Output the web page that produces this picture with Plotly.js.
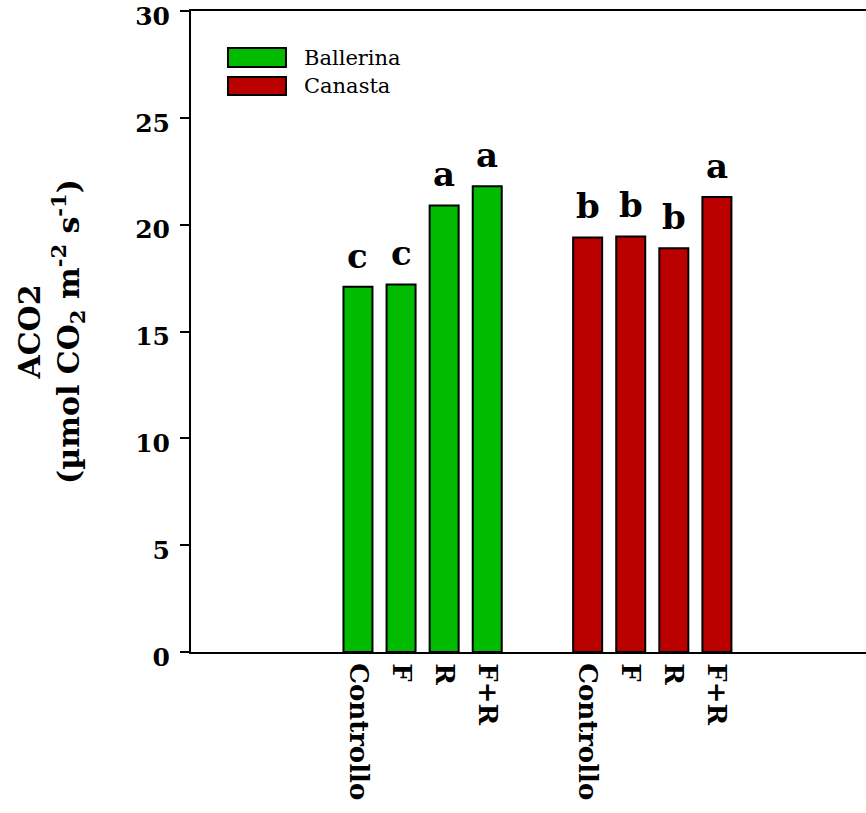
<!DOCTYPE html>
<html>
<head>
<meta charset="utf-8">
<script src="https://cdn.plot.ly/plotly-3.0.1.min.js"></script>
<style>html,body{margin:0;padding:0;background:#fff;}#chart{width:866px;height:813px;}</style>
</head>
<body>
<div id="chart"></div>
<script>
const categories = ["Controllo", "F", "R", "F+R"];
const seriesNames = ["Ballerina", "Canasta"];
const ballerina = [17.1, 17.2, 20.9, 21.8];
const canasta = [19.4, 19.45, 18.9, 21.3];
const ballerinaLetters = ["c", "c", "a", "a"];
const canastaLetters = ["b", "b", "b", "a"];
const yTicks = [0, 5, 10, 15, 20, 25, 30];

const groupOffset = 5.33;
const colors = ["#00bb00", "#bb0000"];
const serif = "DejaVu Serif";

const xB = categories.map((c, i) => i);
const xC = categories.map((c, i) => i + groupOffset);

const traces = [
  {type: "bar", name: seriesNames[0], x: xB, y: ballerina, width: 0.673,
   marker: {color: colors[0], line: {color: "#000", width: 2}}, showlegend: false},
  {type: "bar", name: seriesNames[1], x: xC, y: canasta, width: 0.673,
   marker: {color: colors[1], line: {color: "#000", width: 2}}, showlegend: false}
];

const annotations = [];
const letterFont = {family: serif, size: 34, color: "#000", weight: "bold"};
xB.forEach((x, i) => annotations.push({x: x, y: ballerina[i], text: ballerinaLetters[i], showarrow: false,
  yanchor: "bottom", yshift: 9, font: letterFont}));
xC.forEach((x, i) => annotations.push({x: x, y: canasta[i], text: canastaLetters[i], showarrow: false,
  yanchor: "bottom", yshift: 9, font: letterFont}));

// legend drawn as rectangles + labels
const legBoxes = [[0.9423, 0.9126], [0.897, 0.869]];
const shapes = seriesNames.map((n, k) => ({type: "rect", xref: "paper", yref: "paper",
  x0: 0.0548, x1: 0.1407, y0: legBoxes[k][1], y1: legBoxes[k][0],
  fillcolor: colors[k], line: {color: "#000", width: 2}}));
seriesNames.forEach((n, k) => annotations.push({xref: "paper", yref: "paper", x: 0.1644,
  y: (legBoxes[k][0] + legBoxes[k][1]) / 2, xanchor: "left", yanchor: "middle", text: n, showarrow: false,
  font: {family: serif, size: 21, color: "#000"}}));

const layout = {
  width: 866, height: 813,
  margin: {l: 191, r: 0, t: 11, b: 161},
  paper_bgcolor: "#fff", plot_bgcolor: "#fff",
  showlegend: false,
  bargap: 0,
  xaxis: {
    range: [-3.875, 11.79],
    tickvals: xB.concat(xC),
    ticktext: categories.concat(categories),
    tickangle: 90,
    ticks: "",
    showgrid: false, zeroline: false,
    showline: true, linecolor: "#000", linewidth: 2, mirror: true,
    tickfont: {family: serif, size: 26, color: "#000", weight: "bold"},
    ticklabelstandoff: 4
  },
  yaxis: {
    range: [0, 30],
    tickvals: yTicks,
    ticks: "outside", ticklen: 9, tickwidth: 2, tickcolor: "#000",
    ticklabeloverflow: "allow",
    ticklabelshift: 5,
    showgrid: false, zeroline: false,
    showline: true, linecolor: "#000", linewidth: 2,
    tickfont: {family: serif, size: 25, color: "#000", weight: "bold"},
    ticklabelstandoff: 5,
    title: {text: "ACO2<br>(µmol CO<sub>2</sub> m<sup>-2</sup> s<sup>-1</sup>)", standoff: 47,
      font: {family: serif, size: 30, color: "#000", weight: "bold"}}
  },
  shapes: shapes,
  annotations: annotations
};

Plotly.newPlot("chart", traces, layout, {displayModeBar: false, staticPlot: true});
</script>
</body>
</html>
